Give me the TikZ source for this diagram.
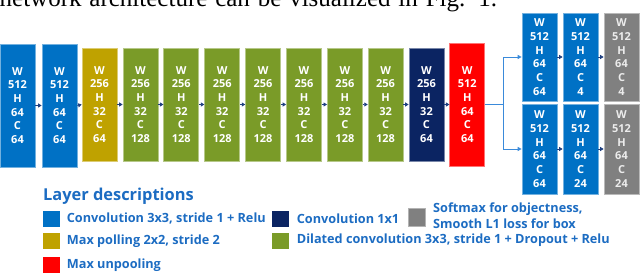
\documentclass[tikz,border=0pt]{standalone}
\usepackage{fontspec}
\setmainfont{Liberation Serif}
\newfontfamily\boxfont{Open Sans}
\usetikzlibrary{arrows.meta}
\definecolor{cblue}{HTML}{0071C5}
\definecolor{cgold}{HTML}{BFA200}
\definecolor{cgreen}{HTML}{7A9B28}
\definecolor{cnavy}{HTML}{0B2462}
\definecolor{cred}{HTML}{FF0000}
\definecolor{cgray}{HTML}{808080}
\definecolor{ctext}{HTML}{1C6CC2}
\definecolor{cconn}{HTML}{3A8ADA}
\definecolor{carrow}{HTML}{1F3F80}
\newcommand\whc[3]{W\\#1\\H\\#2\\C\\#3}
\tikzset{
  layer/.style={rectangle, inner sep=0pt, minimum width=35pt, fill=#1, draw=#1!55!white,
    line width=0.7pt, text=white, align=center,
    font=\boxfont\bfseries\fontsize{11}{13.7}\selectfont},
  tallbox/.style={minimum height=123pt},
  midbox/.style={minimum height=113pt},
  topbox/.style={minimum height=88pt},
  botbox/.style={minimum height=90pt},
  grayt/.style={text=white!85!gray},
  arr/.style={draw=carrow, line width=0.8pt, -{Triangle[length=3.5pt,width=4pt]}},
  conn/.style={draw=cconn, line width=0.9pt},
  connarr/.style={conn, -{Triangle[length=4pt,width=4pt]}},
  legsq/.style={rectangle, inner sep=0pt, minimum width=17pt, minimum height=16pt, fill=#1},
  legtxt/.style={anchor=west, inner sep=0pt, text=ctext, align=left,
    font=\boxfont\bfseries\fontsize{12.7}{15}\selectfont},
}
\begin{document}
\begin{tikzpicture}[x=1pt,y=-1pt]
\useasboundingbox (0,0) rectangle (640,275);
% cut-off text line at top
\node[anchor=base west, inner sep=0pt, font=\fontsize{25}{29}\selectfont] (cap) at (-0.5,7)
  {\makebox[497.5pt][s]{network architecture can be visualized in Fig. 1.}};
% main chain
\node[layer=cblue, tallbox] (b1) at (17.5,105.5) {\whc{512}{64}{64}};
\node[layer=cblue, tallbox] (b2) at (59.5,105.5) {\whc{512}{64}{64}};
\node[layer=cgold, midbox] (b3) at (99.5,104.5) {\whc{256}{32}{64}};
\node[layer=cgreen, midbox] (b4) at (140.5,104.5) {\whc{256}{32}{128}};
\node[layer=cgreen, midbox] (b5) at (181.3,104.5) {\whc{256}{32}{128}};
\node[layer=cgreen, midbox] (b6) at (222.2,104.5) {\whc{256}{32}{128}};
\node[layer=cgreen, midbox] (b7) at (263.1,104.5) {\whc{256}{32}{128}};
\node[layer=cgreen, midbox] (b8) at (304,104.5) {\whc{256}{32}{128}};
\node[layer=cgreen, midbox] (b9) at (344.9,104.5) {\whc{256}{32}{128}};
\node[layer=cgreen, midbox] (b10) at (385.6,104.5) {\whc{256}{32}{128}};
\node[layer=cnavy, midbox] (b11) at (426.5,104.5) {\whc{256}{32}{64}};
\node[layer=cred, tallbox] (b12) at (467.3,104.5) {\whc{512}{64}{64}};
\foreach \i/\j in {1/2,2/3,3/4,4/5,5/6,6/7,7/8,8/9,9/10,10/11,11/12}
  \draw[arr] (b\i.east) -- (b\j.west);
% right branches
\node[layer=cblue, topbox] (t1) at (539.5,57) {\whc{512}{64}{64}};
\node[layer=cblue, topbox] (t2) at (580.5,57) {\whc{512}{64}{4}};
\node[layer=cgray, topbox, grayt] (t3) at (621.5,57) {\whc{512}{64}{4}};
\node[layer=cblue, botbox] (u1) at (539.5,149) {\whc{512}{64}{64}};
\node[layer=cblue, botbox] (u2) at (580.5,149) {\whc{512}{64}{24}};
\node[layer=cgray, botbox, grayt] (u3) at (621.5,149) {\whc{512}{64}{24}};
\draw[arr] (t1.east) -- (t2.west);
\draw[arr] (t2.east) -- (t3.west);
\draw[arr] (u1.east) -- (u2.west);
\draw[arr] (u2.east) -- (u3.west);
\coordinate (br) at (503,104.5);
\draw[conn] (b12.east) -- (br);
\draw[connarr] (br) |- (t1.west);
\draw[connarr] (br) |- (u1.west);
% legend
\node[anchor=base west, inner sep=0pt, text=ctext, font=\boxfont\bfseries\fontsize{16.4}{20}\selectfont] (title) at (43,200.7) {Layer descriptions};
\node[legsq=cblue] (s1) at (51,218.7) {};
\node[legtxt] (l1) at (66.7,218.3) {Convolution 3x3, stride 1 + Relu};
\node[legsq=cgold] (s2) at (51,241) {};
\node[legtxt] (l2) at (66.7,241.7) {Max polling 2x2, stride 2};
\node[legsq=cred] (s3) at (51,264.7) {};
\node[legtxt] (l3) at (66.7,265) {Max unpooling};
\node[legsq=cnavy] (s4) at (280.6,219.3) {};
\node[legtxt] (l4) at (296.7,218.3) {Convolution 1x1};
\node[legsq=cgreen] (s5) at (280.6,240.6) {};
\node[legtxt] (l5) at (296.7,240) {Dilated convolution 3x3, stride 1 + Dropout + Relu};
\node[legsq=cgray, draw=cgray!60!white, line width=0.6pt, minimum height=18pt] (s6) at (416.3,217.5) {};
\node[legtxt] (l6a) at (433,209.3) {Softmax for objectness,};
\node[legtxt] (l6b) at (433,223.8) {Smooth L1 loss for box};
\end{tikzpicture}
\end{document}
